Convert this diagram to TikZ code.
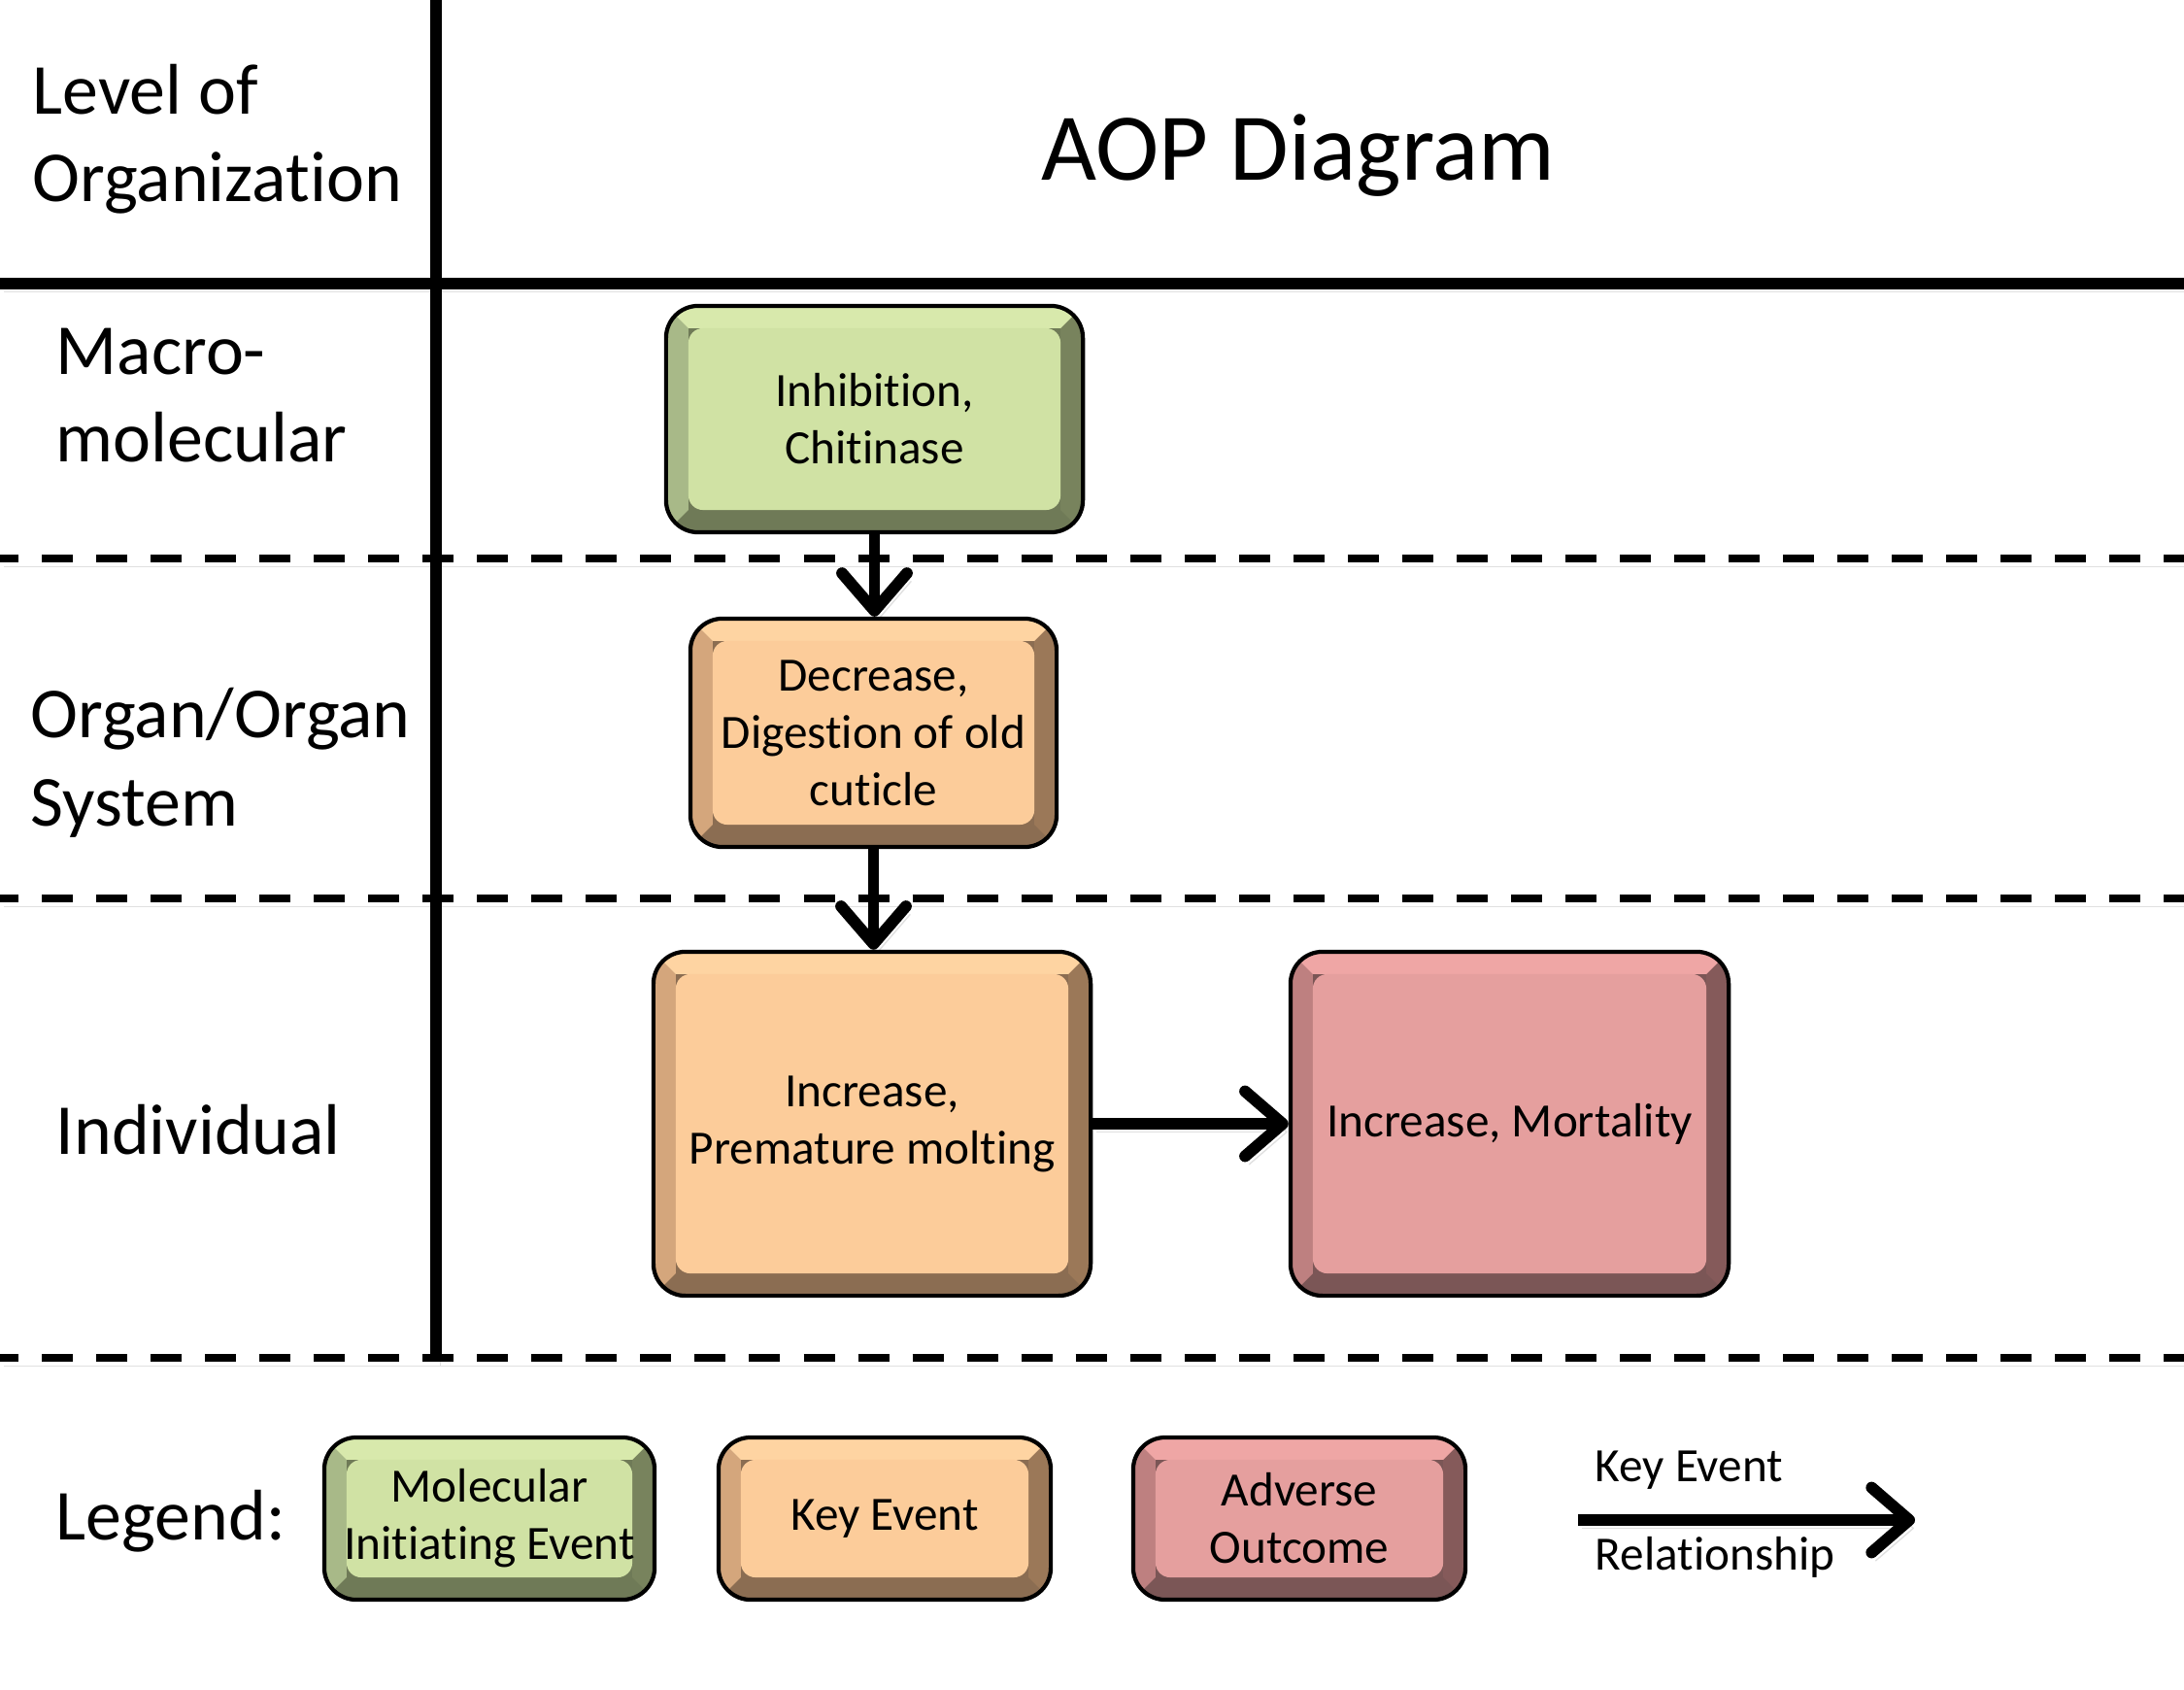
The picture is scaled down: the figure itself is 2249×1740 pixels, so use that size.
\documentclass[tikz,border=0pt]{standalone}
\usepackage{fontspec}
\setmainfont{Carlito}[Ligatures=NoCommon]
\usetikzlibrary{arrows.meta,calc}
\definecolor{gMain}{RGB}{208,226,164}
\definecolor{gTop}{RGB}{216,233,172}
\definecolor{gLeft}{RGB}{168,185,136}
\definecolor{gBot}{RGB}{111,122,87}
\definecolor{gRight}{RGB}{120,131,93}
\definecolor{oMain}{RGB}{252,204,154}
\definecolor{oTop}{RGB}{254,212,162}
\definecolor{oLeft}{RGB}{212,166,124}
\definecolor{oBot}{RGB}{139,109,82}
\definecolor{oRight}{RGB}{155,120,88}
\definecolor{rMain}{RGB}{229,159,158}
\definecolor{rTop}{RGB}{239,166,165}
\definecolor{rLeft}{RGB}{190,128,128}
\definecolor{rBot}{RGB}{123,86,86}
\definecolor{rRight}{RGB}{133,90,90}
\newcommand\bevw{0.23cm}
\newcommand\lblfont{\fontsize{21pt}{25.6pt}\selectfont}
\newcommand\boxfont{\fontsize{14pt}{16.8pt}\selectfont}
\tikzset{
  aopbox/.style n args={5}{rounded corners=0.33cm, draw=black, line width=1.2pt,
    fill=#4, inner sep=0pt, align=center, font=\boxfont,
    path picture={
      \fill[#5, sharp corners] (path picture bounding box.north east) -- (path picture bounding box.south east)
        -- ([xshift=-\bevw,yshift=\bevw]path picture bounding box.south east)
        -- ([xshift=-\bevw,yshift=-\bevw]path picture bounding box.north east) -- cycle;
      \fill[#3, sharp corners] (path picture bounding box.south west) -- (path picture bounding box.north west)
        -- ([xshift=\bevw,yshift=-\bevw]path picture bounding box.north west)
        -- ([xshift=\bevw,yshift=\bevw]path picture bounding box.south west) -- cycle;
      \fill[#2, sharp corners] (path picture bounding box.north west) -- (path picture bounding box.north east)
        -- ([xshift=-\bevw,yshift=-\bevw]path picture bounding box.north east)
        -- ([xshift=\bevw,yshift=-\bevw]path picture bounding box.north west) -- cycle;
      \fill[#1, rounded corners=0.15cm] ([xshift=\bevw,yshift=\bevw]path picture bounding box.south west)
        rectangle ([xshift=-\bevw,yshift=-\bevw]path picture bounding box.north east);
    }},
  miebox/.style={aopbox={gMain}{gTop}{gLeft}{gBot}{gRight}},
  kebox/.style={aopbox={oMain}{oTop}{oLeft}{oBot}{oRight}},
  aobox/.style={aopbox={rMain}{rTop}{rLeft}{rBot}{rRight}},
  shad/.style={preaction={draw=black, draw opacity=0.12, transform canvas={xshift=1.2pt,yshift=-2.4pt}}},
  solidline/.style={line width=3.4pt, shad},
  dashline/.style={line width=2.4pt, dash pattern=on 0.32cm off 0.24cm, dash phase=0.13cm, shad},
  aoparrow/.style={line width=3.4pt, -{Straight Barb[round,length=11pt,width=19pt]}, shad},
  lbl/.style={font=\lblfont, align=left, anchor=base west, inner sep=0pt},
  lgtxt/.style={font=\boxfont, align=left, anchor=base west, inner sep=0pt}
}
\begin{document}
\begin{tikzpicture}[x=0.01cm, y=-0.01cm]
\useasboundingbox (0,0) rectangle (2249,1740);
\fill[white] (0,0) rectangle (2249,1740);
% grid lines
\draw[solidline] (0,292) -- (2249,292);
\draw[solidline] (449,0) -- (449,1398);
\draw[dashline] (0,575) -- (2249,575);
\draw[dashline] (0,925) -- (2249,925);
\draw[dashline] (0,1398) -- (2249,1398);
% labels (base anchor = baseline of last line)
\node[lbl] (lvl) at (33,208) {Level of\\Organization};
\node[font=\fontsize{28pt}{33pt}\selectfont, anchor=base, inner sep=0pt] (title) at (1337,186) {AOP Diagram};
\node[lbl] (macro) at (57,476) {Macro-\\molecular};
\node[lbl] (organ) at (31,850) {Organ/Organ\\System};
\node[lbl] (indiv) at (57,1188) {Individual};
\node[lbl] (legend) at (57,1585) {Legend:};
% boxes
\node[miebox, minimum width=4.29cm, minimum height=2.33cm] (mie) at (900.5,431.5) {Inhibition,\\Chitinase};
\node[kebox, minimum width=3.77cm, minimum height=2.35cm] (ke1) at (899.5,754.5) {Decrease,\\Digestion of old\\cuticle};
\node[kebox, minimum width=4.50cm, minimum height=3.54cm] (ke2) at (898,1157) {Increase,\\Premature molting};
\node[aobox, minimum width=4.51cm, minimum height=3.54cm] (ao) at (1554.5,1157) {Increase, Mortality};
% arrows
\draw[aoparrow] (mie.south) -- (mie.south |- ke1.north);
\draw[aoparrow] (ke1.south) -- (ke1.south |- ke2.north);
\draw[aoparrow] (ke2.east) -- (ao.west);
% legend
\node[miebox, minimum width=3.40cm, minimum height=1.67cm] (lgmie) at (504,1563.5) {Molecular\\Initiating Event};
\node[kebox, minimum width=3.42cm, minimum height=1.67cm] (lgke) at (911,1563.5) {Key Event};
\node[aobox, minimum width=3.42cm, minimum height=1.67cm] (lgao) at (1338,1563.5) {Adverse\\Outcome};
\coordinate (kerA) at (1625,1565);
\coordinate (kerB) at (1972,1565);
\draw[aoparrow] (kerA) -- (kerB);
\node[lgtxt] (kertop) at (1642,1525) {Key Event};
\node[lgtxt] (kerbot) at (1642,1616) {Relationship};
\end{tikzpicture}
\end{document}
